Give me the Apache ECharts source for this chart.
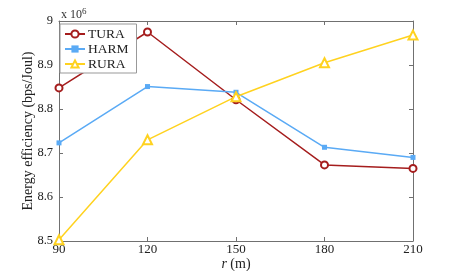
<!DOCTYPE html>
<html>
<head>
<meta charset="utf-8">
<script src="https://cdn.jsdelivr.net/npm/echarts@6/dist/echarts.min.js"></script>
<style>
  html, body { margin: 0; padding: 0; background: #fff; }
  #chart { width: 457px; height: 271px; }
</style>
</head>
<body>
<div id="chart"></div>
<script>
// distance r (m)
const radii = [90, 120, 150, 180, 210]
// energy efficiency, units of 10^6 bps/Joul
const tura = [8.848, 8.975, 8.821, 8.673, 8.665]
const harm = [8.723, 8.851, 8.838, 8.713, 8.690]
const rura = [8.503, 8.730, 8.828, 8.905, 8.968]
const yTicks = [8.5, 8.6, 8.7, 8.8, 8.9, 9]

const font = 'Liberation Serif'
const axisColor = '#707070'

const chart = echarts.init(document.getElementById('chart'))

const pairs = vals => radii.map((r, i) => [r, vals[i]])

const option = {
    animation: false,
    textStyle: { fontFamily: font },
    title: {
        text: 'x 10{sup|6}',
        left: 56,
        top: 2,
        textStyle: {
            fontFamily: font,
            fontSize: 12,
            fontWeight: 'normal',
            color: '#333',
            rich: { sup: { fontSize: 9, verticalAlign: 'top', padding: [0, 0, 6, 0], fontFamily: font } }
        }
    },
    grid: { left: 59, right: 44, top: 21, bottom: 30, outerBoundsMode: 'none', containLabel: false },
    legend: {
        orient: 'vertical',
        left: 60,
        top: 24,
        padding: [3, 8, 2, 4],
        itemGap: 1,
        itemWidth: 20,
        itemHeight: 9,
        backgroundColor: '#fff',
        borderColor: '#999',
        borderWidth: 1,
        textStyle: { fontFamily: font, fontSize: 13.5, color: '#222', padding: [0, 0, 0, -2] },
        data: ['TURA', 'HARM', 'RURA']
    },
    xAxis: [{
        type: 'value',
        min: 90,
        max: 210,
        interval: 30,
        name: '{i|r} (m)',
        nameLocation: 'middle',
        nameGap: 16,
        nameMoveOverlap: false,
        nameTextStyle: {
            fontFamily: font, fontSize: 14, color: '#222',
            rich: { i: { fontStyle: 'italic', fontFamily: font, fontSize: 14, color: '#222' } }
        },
        axisLine: { lineStyle: { color: axisColor, width: 1 } },
        axisTick: { inside: true, length: 4, lineStyle: { color: axisColor } },
        axisLabel: { fontFamily: font, fontSize: 13, color: '#222', margin: 2 },
        splitLine: { show: false }
    }, {
        type: 'value',
        position: 'top',
        min: 90,
        max: 210,
        interval: 30,
        axisLine: { show: true, lineStyle: { color: axisColor, width: 1 } },
        axisTick: { inside: true, length: 4, lineStyle: { color: axisColor } },
        axisLabel: { show: false },
        splitLine: { show: false }
    }],
    yAxis: [{
        type: 'value',
        min: 8.5,
        max: 9,
        interval: 0.1,
        name: 'Energy efficiency (bps/Joul)',
        nameLocation: 'middle',
        nameGap: 23.5,
        nameMoveOverlap: false,
        nameTextStyle: { fontFamily: font, fontSize: 14, color: '#222' },
        axisLine: { show: true, lineStyle: { color: axisColor, width: 1 } },
        axisTick: { inside: true, length: 4, lineStyle: { color: axisColor } },
        axisLabel: {
            fontFamily: font, fontSize: 12.5, color: '#222', margin: 6,
            formatter: v => {
                const t = yTicks.find(k => Math.abs(k - v) < 1e-6)
                return t === undefined ? '' : String(t)
            }
        },
        splitLine: { show: false }
    }, {
        type: 'value',
        position: 'right',
        min: 8.5,
        max: 9,
        interval: 0.1,
        axisLine: { show: true, lineStyle: { color: axisColor, width: 1 } },
        axisTick: { inside: true, length: 4, lineStyle: { color: axisColor } },
        axisLabel: { show: false },
        splitLine: { show: false }
    }],
    series: [
        {
            name: 'TURA',
            type: 'line',
            data: pairs(tura),
            symbol: 'emptyCircle',
            symbolSize: 7,
            color: '#a51d1d',
            lineStyle: { width: 1.5 },
            itemStyle: { borderWidth: 1.5 }
        },
        {
            name: 'HARM',
            type: 'line',
            data: pairs(harm),
            symbol: 'rect',
            symbolSize: 5,
            color: '#5aaaf5',
            lineStyle: { width: 1.5 }
        },
        {
            name: 'RURA',
            type: 'line',
            data: pairs(rura),
            symbol: 'emptyTriangle',
            symbolSize: 9,
            color: '#ffd21f',
            lineStyle: { width: 1.5 },
            itemStyle: { borderWidth: 1.5 }
        }
    ]
}

chart.setOption(option)
</script>
</body>
</html>
